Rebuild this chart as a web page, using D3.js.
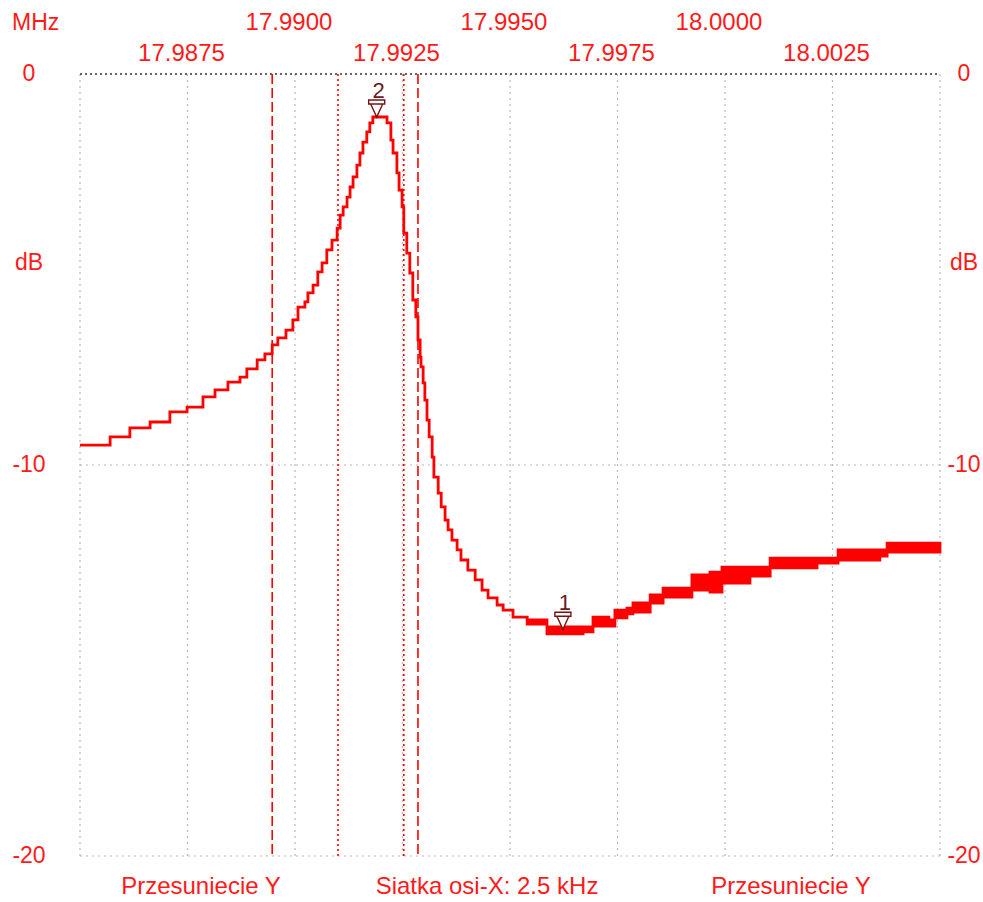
<!DOCTYPE html>
<html>
<head>
<meta charset="utf-8">
<script src="https://cdn.jsdelivr.net/npm/d3@7"></script>
<style>
  body { margin: 0; background: #fff; }
  text { font-family: "Liberation Sans", Arial, sans-serif; fill: #ff1a1a; }
</style>
</head>
<body>
<svg></svg>
<script>
const width = 983, height = 902

// frequency in MHz, level in dB (upper edge of the trace)
const freqs = [17.98500, 17.98570, 17.98616, 17.98663, 17.98709, 17.98749, 17.98786, 17.98814, 17.98844, 17.98872,
    17.98888, 17.98912, 17.98930, 17.98947, 17.98960, 17.98979, 17.98995, 17.99007, 17.99023, 17.99030,
    17.99042, 17.99053, 17.99063, 17.99074, 17.99086, 17.99098, 17.99105, 17.99112, 17.99121, 17.99128,
    17.99135, 17.99144, 17.99151, 17.99158, 17.99167, 17.99174, 17.99181, 17.99214, 17.99223, 17.99228,
    17.99237, 17.99242, 17.99249, 17.99253, 17.99260, 17.99267, 17.99274, 17.99281, 17.99286, 17.99291,
    17.99293, 17.99298, 17.99302, 17.99307, 17.99312, 17.99319, 17.99323, 17.99333, 17.99340, 17.99349,
    17.99356, 17.99365, 17.99377, 17.99386, 17.99402, 17.99419, 17.99435, 17.99449, 17.99470, 17.99484,
    17.99507, 17.99540, 17.99586, 17.99670, 17.99693, 17.99730, 17.99744, 17.99772, 17.99786, 17.99826,
    17.99856, 17.99923, 17.99965, 17.99993, 18.00058, 18.00105, 18.00214, 18.00263, 18.00360, 18.00377,
    18.00500]
const levels = [-9.49, -9.28, -9.05, -8.90, -8.64, -8.52, -8.26, -8.08, -7.88, -7.75,
    -7.54, -7.31, -7.16, -6.93, -6.75, -6.55, -6.29, -5.96, -5.83, -5.60,
    -5.40, -5.06, -4.83, -4.50, -4.25, -3.94, -3.61, -3.40, -3.15, -2.89,
    -2.63, -2.33, -2.02, -1.74, -1.48, -1.25, -1.10, -1.25, -1.69, -2.02,
    -2.53, -2.97, -3.40, -4.07, -4.58, -5.09, -5.78, -6.21, -6.80, -7.24,
    -7.49, -7.90, -8.34, -8.85, -9.28, -9.80, -10.31, -10.72, -11.07, -11.41,
    -11.66, -11.92, -12.17, -12.43, -12.69, -12.94, -13.20, -13.40, -13.58, -13.71,
    -13.89, -13.96, -14.14, -14.14, -13.89, -13.96, -13.71, -13.66, -13.53, -13.32,
    -13.15, -12.81, -12.74, -12.61, -12.61, -12.38, -12.38, -12.17, -12.17, -12.00,
    -12.00]
// lower edge where repeated sweeps spread the trace (null = thin line)
const levelsLow = [null, null, null, null, null, null, null, null, null, null,
    null, null, null, null, null, null, null, null, null, null,
    null, null, null, null, null, null, null, null, null, null,
    null, null, null, null, null, null, null, null, null, null,
    null, null, null, null, null, null, null, null, null, null,
    null, null, null, null, null, null, null, null, null, null,
    null, null, null, null, null, null, null, null, null, null,
    null, -14.07, -14.32, -14.27, -14.12, -14.12, -13.91, -13.81, -13.76, -13.53,
    -13.38, -13.20, -13.25, -13.02, -12.84, -12.63, -12.51, -12.43, -12.33, -12.23,
    -12.23]

const xTicksTop = [17.9900, 17.9950, 18.0000]
const xTicksLow = [17.9875, 17.9925, 17.9975, 18.0025]
const yTicks = [0, -10, -20]
const dashedCursors = [17.98947, 17.99286]
const dottedCursors = [17.99100, 17.99253]
const markers = [
    { id: "1", f: 17.99623, db: -14.20 },
    { id: "2", f: 17.99190, db: -1.10 }
]

var svg = d3.select("svg")
    .attr("width", width)
    .attr("height", height);

const x = d3.scaleLinear().domain([17.985, 18.005]).range([80, 940]);
const y = d3.scaleLinear().domain([0, -20]).range([74, 856]);

// grid
const gridX = d3.range(17.985, 18.0051, 0.0025);
svg.selectAll("line.vgrid")
    .data(gridX)
    .enter()
    .append("line")
    .attr("x1", d => x(d)).attr("x2", d => x(d))
    .attr("y1", y(0)).attr("y2", y(-20))
    .attr("stroke", "#b8b8b8")
    .attr("stroke-width", 1.2)
    .attr("stroke-dasharray", "2,4");

svg.selectAll("line.hgrid")
    .data([-10, -20])
    .enter()
    .append("line")
    .attr("x1", x(17.985)).attr("x2", x(18.005))
    .attr("y1", d => y(d)).attr("y2", d => y(d))
    .attr("stroke", "#b8b8b8")
    .attr("stroke-width", 1.2)
    .attr("stroke-dasharray", "2,4");

svg.append("line")
    .attr("x1", x(17.985)).attr("x2", x(18.005))
    .attr("y1", y(0)).attr("y2", y(0))
    .attr("stroke", "#333")
    .attr("stroke-width", 1.5)
    .attr("stroke-dasharray", "2,3");

// cursor lines
svg.selectAll("line.dash")
    .data(dashedCursors)
    .enter()
    .append("line")
    .attr("x1", d => x(d)).attr("x2", d => x(d))
    .attr("y1", y(0)).attr("y2", y(-20))
    .attr("stroke", "#f00")
    .attr("stroke-width", 1.6)
    .attr("stroke-dasharray", "10,4");

svg.selectAll("line.dot")
    .data(dottedCursors)
    .enter()
    .append("line")
    .attr("x1", d => x(d)).attr("x2", d => x(d))
    .attr("y1", y(0)).attr("y2", y(-20))
    .attr("stroke", "#f00")
    .attr("stroke-width", 1.6)
    .attr("stroke-dasharray", "2,3");

// trace
const pts = freqs.map((f, i) => ({ f: f, hi: levels[i], lo: levelsLow[i] ?? levels[i] }));

const band = d3.area()
    .x(d => x(d.f))
    .y0(d => y(d.lo))
    .y1(d => y(d.hi))
    .curve(d3.curveStepAfter);

svg.append("path")
    .attr("d", band(pts))
    .attr("fill", "#f00")
    .attr("stroke", "#f00")
    .attr("stroke-width", 2.8)
    .attr("stroke-linejoin", "miter");

// markers
markers.forEach(m => {
    const mx = x(m.f), my = y(m.db);
    svg.append("path")
        .attr("d", `M${mx - 8},${my - 17}h16v4h-16z M${mx - 6},${my - 13}L${mx},${my}L${mx + 6},${my - 13}`)
        .attr("fill", "#fff")
        .attr("stroke", "#7a1010")
        .attr("stroke-width", 1.4);
    svg.append("text")
        .attr("x", mx + 2).attr("y", my - 19)
        .attr("text-anchor", "middle")
        .style("font-size", "22px")
        .style("fill", "#6a2020")
        .text(m.id);
});

// labels
const fmt = d3.format(".4f");
svg.selectAll("text.top")
    .data(xTicksTop)
    .enter()
    .append("text")
    .attr("x", d => x(d) - 6).attr("y", 30)
    .attr("text-anchor", "middle")
    .style("font-size", "24px")
    .text(d => fmt(d));

svg.selectAll("text.low")
    .data(xTicksLow)
    .enter()
    .append("text")
    .attr("x", d => x(d) - 6).attr("y", 61)
    .attr("text-anchor", "middle")
    .style("font-size", "24px")
    .text(d => fmt(d));

svg.append("text").attr("x", 12).attr("y", 30).style("font-size", "23px").text("MHz");

[29, 964].forEach(cx => {
    svg.selectAll(null)
        .data(yTicks)
        .enter()
        .append("text")
        .attr("x", cx).attr("y", d => y(d) + 7)
        .attr("text-anchor", "middle")
        .style("font-size", "23px")
        .text(d => d);
    svg.append("text")
        .attr("x", cx).attr("y", 270)
        .attr("text-anchor", "middle")
        .style("font-size", "23px")
        .text("dB");
});

const bottom = [["Przesuniecie Y", 201], ["Siatka osi-X: 2.5 kHz", 487], ["Przesuniecie Y", 791]];
bottom.forEach(b => {
    svg.append("text")
        .attr("x", b[1]).attr("y", 894)
        .attr("text-anchor", "middle")
        .style("font-size", "24px")
        .text(b[0]);
});
</script>
</body>
</html>
